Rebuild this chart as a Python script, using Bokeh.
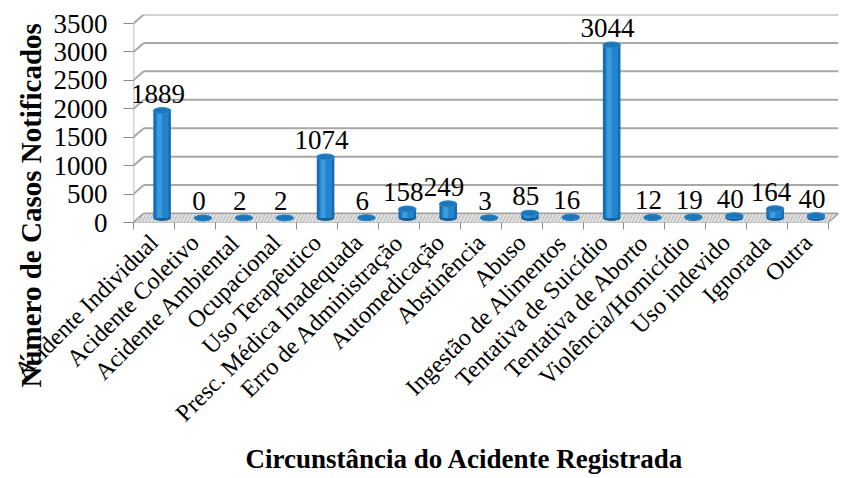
import math
from bokeh.plotting import figure
from bokeh.models import Range1d, FixedTicker, ColumnDataSource, Title
from bokeh.core.properties import value
from bokeh.embed import file_html
from bokeh.resources import INLINE

categories = ["Acidente Individual", "Acidente Coletivo", "Acidente Ambiental", "Ocupacional",
              "Uso Terapêutico", "Presc. Médica Inadequada", "Erro de Administração",
              "Automedicação", "Abstinência", "Abuso", "Ingestão de Alimentos",
              "Tentativa de Suicídio", "Tentativa de Aborto", "Violência/Homicídio",
              "Uso indevido", "Ignorada", "Outra"]
counts = [1889, 0, 2, 2, 1074, 6, 158, 249, 3, 85, 16, 3044, 12, 19, 40, 164, 40]
y_ticks = [0, 500, 1000, 1500, 2000, 2500, 3000, 3500]
x_title = "Circunstância do Acidente Registrada"
y_title = "Número de Casos Notificados"

FONT = "Liberation Serif"
W, H = 843, 478
FL, FT, FB = 133, 14, 222          # frame left / top / bottom (px)
FR = 5
FW = W - FL - FR
FH = FB - FT
n = len(categories)
DX = 0.5                           # depth in x units (2 units per category)
DPX = 9
DY = DPX * max(y_ticks) / (FH - DPX)
x_end = 2 * n + DX
y_end = max(y_ticks) + DY

p = figure(width=W, height=H, x_range=Range1d(0, x_end), y_range=Range1d(0, y_end),
           output_backend="svg", toolbar_location=None,
           min_border_left=FL, min_border_right=FR, min_border_top=FT,
           min_border_bottom=H - FB)
p.outline_line_color = None
p.grid.visible = False
p.background_fill_color = "white"

# walls / grid
gx0 = [0] * len(y_ticks)
gx1 = [DX] * len(y_ticks)
gy0 = list(y_ticks)
gy1 = [t + DY for t in y_ticks]
p.segment(x0=gx0, y0=gy0, x1=gx1, y1=gy1, line_color="#a8a8a8", line_width=2)
p.segment(x0=gx1, y0=gy1, x1=[2 * n + DX] * len(y_ticks), y1=gy1, line_color="#a8a8a8", line_width=2)
p.segment(x0=[0], y0=[0], x1=[0], y1=[max(y_ticks)], line_color="#a8a8a8", line_width=1.5)

# floor
p.patch(x=[0, 2 * n, 2 * n + DX, DX], y=[0, 0, DY, DY], fill_color="#bcbcbc",
        line_color="#9c9c9c", line_width=1.2, hatch_pattern="/", hatch_color="#e2e2e2",
        hatch_scale=7, hatch_weight=2)

# bars (cylinders)
xc = [2 * i + 1 for i in range(n)]
bx = [c + 0.4 for c in xc]
base = DY / 2
src = ColumnDataSource(dict(x=bx, top=[v + base for v in counts], bottom=[base] * n,
                            hx=[c - 0.12 for c in bx]))
p.ellipse(x="x", y="bottom", width=0.86, height=6, height_units="screen", source=src,
          fill_color="#175f97", line_color=None)
p.vbar(x="x", width=0.86, bottom="bottom", top="top", source=src,
       fill_color="#176cae", line_color=None)
p.vbar(x="x", width=0.62, bottom="bottom", top="top", source=src,
       fill_color="#2184cc", line_color=None)
p.vbar(x="hx", width=0.24, bottom="bottom", top="top", source=src,
       fill_color="#43a0e3", line_color=None, fill_alpha=0.8)
p.ellipse(x="x", y="top", width=0.86, height=6, height_units="screen", source=src,
          fill_color="#1d76b9", line_color="#2b8ad0", line_width=1)

# value labels
p.text(x=[c + 0.2 for c in xc], y=[v + base for v in counts], text=[str(v) for v in counts],
       text_font=value(FONT), text_font_size="27px", text_align="center",
       text_baseline="alphabetic", y_offset=-17, text_color="black")

# axes
p.yaxis.ticker = FixedTicker(ticks=y_ticks)
p.yaxis.axis_line_color = None
p.yaxis.major_tick_in = 0
p.yaxis.major_tick_out = 10
p.yaxis.major_tick_line_color = "#8c8c8c"
p.yaxis.minor_tick_line_color = None
p.yaxis.major_label_text_font = FONT
p.yaxis.major_label_text_font_size = "27px"
p.yaxis.major_label_text_color = "black"
p.yaxis.major_label_standoff = 16

p.xaxis.ticker = FixedTicker(ticks=xc, minor_ticks=[2 * i for i in range(n + 1)])
p.xaxis.major_label_overrides = {c: lab for c, lab in zip(xc, categories)}
p.xaxis.axis_line_color = None
p.xaxis.major_tick_in = 0
p.xaxis.major_tick_out = 0
p.xaxis.minor_tick_in = 0
p.xaxis.minor_tick_out = 7
p.xaxis.minor_tick_line_color = "#8c8c8c"
p.xaxis.major_label_orientation = math.pi / 4
p.xaxis.major_label_text_font = FONT
p.xaxis.major_label_text_font_size = "24px"
p.xaxis.major_label_text_color = "black"
p.xaxis.major_label_standoff = 9

p.add_layout(Title(text=x_title, text_font=FONT, text_font_size="27px",
                   text_font_style="bold", align="left", offset=112,
                   standoff=6, text_color="black"), "below")
p.add_layout(Title(text=y_title, text_font=FONT, text_font_size="29px",
                   text_font_style="bold", align="left", offset=FB - 387,
                   standoff=8, text_color="black"), "left")

open("out.html", "w").write(file_html(p, INLINE))
